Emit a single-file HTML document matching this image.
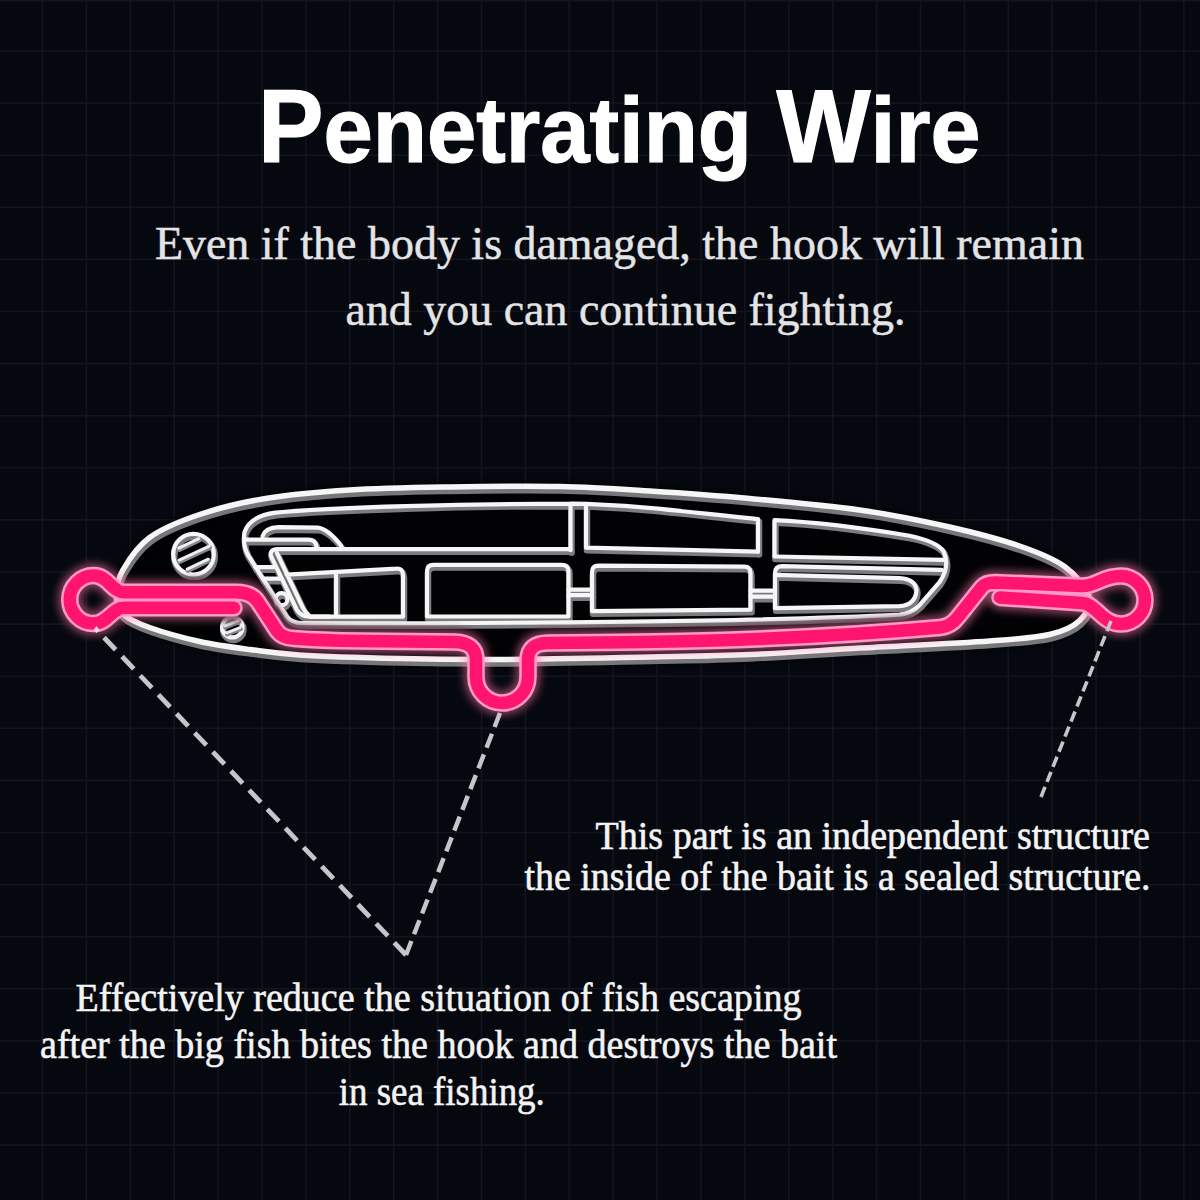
<!DOCTYPE html>
<html><head><meta charset="utf-8"><style>
html,body{margin:0;padding:0;background:#05080f;width:1200px;height:1200px;overflow:hidden}
svg{display:block}
</style></head><body>
<svg width="1200" height="1200" viewBox="0 0 1200 1200">
<defs>
<filter id="blur4" x="-20%" y="-50%" width="140%" height="200%"><feGaussianBlur stdDeviation="4"/></filter>
<filter id="blur3" x="-20%" y="-50%" width="140%" height="200%"><feGaussianBlur stdDeviation="3"/></filter>
<g id="inner"><path d="M 758.5 553.5 L 758.5 521 C 700 515 630 506 571 505.5 L 571 552 M 571 505.5 C 470 505.5 330 509 276 514.5 Q 250 518 245 534 Q 243 546 248 556 L 287 618 Q 292 625 304 625 C 500 625.5 780 623 900 616.5 Q 912 615 920 607 L 940 584 Q 951 568 944 553 Q 937 543 910 537.5 C 870 531 820 524 775 522 L 775 558"/>
<path d="M 571 551 L 278 551 Q 269.5 551.5 271.5 558 L 297 611 Q 301 618.5 311 618.5 L 330 618.5"/>
<path d="M 287 576.5 L 397 570.5 Q 403.5 570 403.5 577 L 403.5 618.5 L 311 618.5 M 277.5 555 L 303.5 610 Q 306 615 311 618.5 M 336.5 575 L 336.5 618.5"/>
<path d="M 434 566.7 L 562 566.7 Q 569 566.7 569 573 L 569 618.3 L 427.5 618.3 L 427.5 573 Q 427.5 566.7 434 566.7 Z"/>
<path d="M 569 591.5 L 592.5 591.5 M 569 597 L 592.5 597"/>
<path d="M 599 567.5 L 745 568.5 Q 751 568.5 751 575 L 751 611.5 L 592.5 613 L 592.5 574 Q 592.5 567.5 599 567.5 Z"/>
<path d="M 751 592.5 L 775 592.5 M 751 598.5 L 775 598.5"/>
<path d="M 775.5 610 L 775.5 575 Q 775.5 568 783 568 L 942 571.7 M 775.5 576.7 L 900 580 Q 916 581 917 592 Q 916 607 900 608 L 775.5 610"/>
<path d="M 775 558.3 L 944 561.7"/>
<path d="M 586.5 508 L 586.5 549.5 L 758.5 553.5"/>
<path d="M 246 541.5 L 309 541.5 Q 316 541.5 317 548"/>
<path d="M 263 538 Q 266 529.5 279 529 L 318 529.5 Q 328 530 342 548"/>
<path d="M 256 569 L 276 569 M 263.5 580.5 L 281.5 580.5"/>
<path d="M 276 601 A 6 6 0 1 1 288 601 A 6 6 0 1 1 276 601"/>
<circle cx="194" cy="556" r="20.3"/><circle cx="232.8" cy="629" r="10.2"/></g>
<path id="slines" d="M 179 549 L 199 539.5 M 179.5 561 L 209.5 547 M 187.5 570 L 208.5 560 M 225 626.6 L 238.6 621.4 M 226.8 633.6 L 240.3 628.4"/>
<path id="body" d="M 117.0 597.0 C 116.8 589.7 117.5 581.7 123.0 572.0 C 128.5 562.3 137.2 548.3 150.0 539.0 C 162.8 529.7 180.7 522.5 200.0 516.0 C 219.3 509.5 241.0 504.1 266.0 500.0 C 291.0 495.9 319.3 493.4 350.0 491.5 C 380.7 489.6 415.0 489.1 450.0 488.5 C 485.0 487.9 526.7 487.3 560.0 488.0 C 593.3 488.7 618.3 490.5 650.0 492.5 C 681.7 494.5 715.0 496.8 750.0 500.0 C 785.0 503.2 826.7 506.8 860.0 511.5 C 893.3 516.2 923.3 522.5 950.0 528.5 C 976.7 534.5 1000.8 540.9 1020.0 547.5 C 1039.2 554.1 1053.5 559.6 1065.0 568.0 C 1076.5 576.4 1086.5 589.0 1089.0 598.0 C 1091.5 607.0 1086.5 615.7 1080.0 622.0 C 1073.5 628.3 1065.0 632.6 1050.0 636.0 C 1035.0 639.4 1021.7 640.2 990.0 642.5 C 958.3 644.8 900.0 647.4 860.0 649.6 C 820.0 651.9 785.0 654.5 750.0 656.0 C 715.0 657.5 691.7 657.7 650.0 658.5 C 608.3 659.3 541.7 660.8 500.0 661.0 C 458.3 661.2 433.3 660.8 400.0 660.0 C 366.7 659.2 325.0 657.9 300.0 656.4 C 275.0 654.9 266.7 653.2 250.0 651.0 C 233.3 648.8 216.7 646.7 200.0 643.0 C 183.3 639.3 162.7 633.5 150.0 629.0 C 137.3 624.5 129.5 621.3 124.0 616.0 C 118.5 610.7 117.2 604.3 117.0 597.0 Z"/>
<path id="wire" d="M 234 607.8 L 124 607.8 C 112 607.8 108 623.6 93.75 623.6 A 24 24 0 0 1 69.75 599.6 A 24 24 0 0 1 93.75 575.6 C 108 575.6 112 592.2 124 592.2 L 236 592.2 Q 252 592.2 258 602 L 277 631 Q 282 638 294 638.5 Q 320 640.5 360 641 L 455 642 Q 476 642.5 476 660 L 476 677 A 26 26 0 0 0 528 677 L 528 660 Q 528 643 548 643 L 600 642.5 C 700 642 820 638 940 627.5 Q 951 626.5 958 617 L 982 587 Q 986 582.5 995 582.5 L 1082 586 C 1096 586.5 1102 576 1121 576 A 24 24 0 0 1 1145 600 A 24 24 0 0 1 1121 624 C 1102 624 1096 603.5 1082 603 L 1000 597.5"/>
</defs>
<rect width="1200" height="1200" fill="#05080f"/>
<g stroke="#14141d" stroke-width="1.6"><line x1="-1.4" y1="0" x2="-1.4" y2="1200"/>
<line x1="42.5" y1="0" x2="42.5" y2="1200"/>
<line x1="86.4" y1="0" x2="86.4" y2="1200"/>
<line x1="130.3" y1="0" x2="130.3" y2="1200"/>
<line x1="174.2" y1="0" x2="174.2" y2="1200"/>
<line x1="218.1" y1="0" x2="218.1" y2="1200"/>
<line x1="262.0" y1="0" x2="262.0" y2="1200"/>
<line x1="305.9" y1="0" x2="305.9" y2="1200"/>
<line x1="349.8" y1="0" x2="349.8" y2="1200"/>
<line x1="393.7" y1="0" x2="393.7" y2="1200"/>
<line x1="437.6" y1="0" x2="437.6" y2="1200"/>
<line x1="481.5" y1="0" x2="481.5" y2="1200"/>
<line x1="525.4" y1="0" x2="525.4" y2="1200"/>
<line x1="569.3" y1="0" x2="569.3" y2="1200"/>
<line x1="613.2" y1="0" x2="613.2" y2="1200"/>
<line x1="657.1" y1="0" x2="657.1" y2="1200"/>
<line x1="701.0" y1="0" x2="701.0" y2="1200"/>
<line x1="744.9" y1="0" x2="744.9" y2="1200"/>
<line x1="788.8" y1="0" x2="788.8" y2="1200"/>
<line x1="832.7" y1="0" x2="832.7" y2="1200"/>
<line x1="876.6" y1="0" x2="876.6" y2="1200"/>
<line x1="920.5" y1="0" x2="920.5" y2="1200"/>
<line x1="964.4" y1="0" x2="964.4" y2="1200"/>
<line x1="1008.3" y1="0" x2="1008.3" y2="1200"/>
<line x1="1052.2" y1="0" x2="1052.2" y2="1200"/>
<line x1="1096.1" y1="0" x2="1096.1" y2="1200"/>
<line x1="1140.0" y1="0" x2="1140.0" y2="1200"/>
<line x1="1183.9" y1="0" x2="1183.9" y2="1200"/>
<line x1="1227.8" y1="0" x2="1227.8" y2="1200"/>
<line x1="0" y1="0.6" x2="1200" y2="0.6"/>
<line x1="0" y1="51.0" x2="1200" y2="51.0"/>
<line x1="0" y1="103.1" x2="1200" y2="103.1"/>
<line x1="0" y1="155.2" x2="1200" y2="155.2"/>
<line x1="0" y1="207.3" x2="1200" y2="207.3"/>
<line x1="0" y1="259.4" x2="1200" y2="259.4"/>
<line x1="0" y1="311.5" x2="1200" y2="311.5"/>
<line x1="0" y1="363.6" x2="1200" y2="363.6"/>
<line x1="0" y1="415.7" x2="1200" y2="415.7"/>
<line x1="0" y1="467.8" x2="1200" y2="467.8"/>
<line x1="0" y1="519.9" x2="1200" y2="519.9"/>
<line x1="0" y1="572.0" x2="1200" y2="572.0"/>
<line x1="0" y1="624.1" x2="1200" y2="624.1"/>
<line x1="0" y1="676.2" x2="1200" y2="676.2"/>
<line x1="0" y1="728.3" x2="1200" y2="728.3"/>
<line x1="0" y1="780.4" x2="1200" y2="780.4"/>
<line x1="0" y1="832.5" x2="1200" y2="832.5"/>
<line x1="0" y1="884.6" x2="1200" y2="884.6"/>
<line x1="0" y1="936.7" x2="1200" y2="936.7"/>
<line x1="0" y1="988.8" x2="1200" y2="988.8"/>
<line x1="0" y1="1040.9" x2="1200" y2="1040.9"/>
<line x1="0" y1="1093.0" x2="1200" y2="1093.0"/>
<line x1="0" y1="1145.1" x2="1200" y2="1145.1"/></g>

<g font-family="Liberation Sans" font-weight="bold" font-size="103" fill="#ffffff" stroke="#ffffff" stroke-width="1.2">
<text x="258" y="161.5" textLength="494" lengthAdjust="spacingAndGlyphs">P<tspan font-size="93">enetrating</tspan></text>
<text x="776.5" y="161.5" textLength="204" lengthAdjust="spacingAndGlyphs">W<tspan font-size="93">ire</tspan></text>
</g>

<g font-family="Liberation Serif" fill="#e4e4e6" stroke="#e4e4e6" stroke-width="0.5">
<text x="619.4" y="259" text-anchor="middle" font-size="47" textLength="929" lengthAdjust="spacingAndGlyphs">Even if the body is damaged, the hook will remain</text>
<text x="625.5" y="325" text-anchor="middle" font-size="47" textLength="560" lengthAdjust="spacingAndGlyphs">and you can continue fighting.</text>
</g>

<use href="#body" fill="#020204" stroke="none"/>
<g fill="none" stroke-linecap="round" stroke-linejoin="round">
  <use href="#body" stroke="#000" stroke-width="14" opacity="0.5" filter="url(#blur3)"/>
  <use href="#inner" stroke="#7c7c80" stroke-width="6.5" transform="translate(0.5,0.75)"/>
  <use href="#inner" stroke="#f6f6f6" stroke-width="4.2" transform="translate(-0.5,-1.8)"/>
  <use href="#slines" stroke="#8a8a8e" stroke-width="4.5" transform="translate(0.3,0.6)"/>
  <use href="#slines" stroke="#efefef" stroke-width="3" transform="translate(-0.3,-0.8)"/>
  <use href="#wire" stroke="#000004" stroke-width="26" opacity="0.8" filter="url(#blur3)"/>
  <use href="#body" stroke="#77777b" stroke-width="8.5" transform="translate(0.5,1.5)"/>
  <use href="#body" stroke="#f6f6f6" stroke-width="5.5" transform="translate(-0.4,-1.5)"/>
  <use href="#wire" stroke="#ff7ab0" stroke-width="24" opacity="0.55" filter="url(#blur4)"/>
  <use href="#wire" stroke="#ff9ac4" stroke-width="17.5"/>
  <use href="#wire" stroke="#ff1470" stroke-width="12.5"/>
</g>

<g fill="none" stroke="#c6c6ca">
  <path d="M 406 955 L 104 637.5" stroke-width="4.8" stroke-dasharray="17 9.33"/>
  <path d="M 406 955 L 500 713" stroke-width="4.5" stroke-dasharray="15 7.24"/>
  <path d="M 96.5 626 L 99.5 630 L 96.5 633 L 93.5 630 Z" fill="#f4dbe6" stroke="none"/>
  <path d="M 1111 621 L 1041 797" stroke-width="3.6" stroke-dasharray="10.9 5.33"/>
</g>

<g font-family="Liberation Serif" fill="#f4f4f4" stroke="#f4f4f4" stroke-width="0.6">
<text x="1150" y="848.5" text-anchor="end" font-size="39.5" textLength="554.5" lengthAdjust="spacingAndGlyphs">This part is an independent structure</text>
<text x="1150.5" y="890.2" text-anchor="end" font-size="39.5" textLength="626" lengthAdjust="spacingAndGlyphs">the inside of the bait is a sealed structure.</text>
<text x="438.5" y="1010.5" text-anchor="middle" font-size="41" textLength="726" lengthAdjust="spacingAndGlyphs">Effectively reduce the situation of fish escaping</text>
<text x="438.5" y="1058.3" text-anchor="middle" font-size="41" textLength="797" lengthAdjust="spacingAndGlyphs">after the big fish bites the hook and destroys the bait</text>
<text x="441.8" y="1105" text-anchor="middle" font-size="41" textLength="206" lengthAdjust="spacingAndGlyphs">in sea fishing.</text>
</g>
</svg>
</body></html>
